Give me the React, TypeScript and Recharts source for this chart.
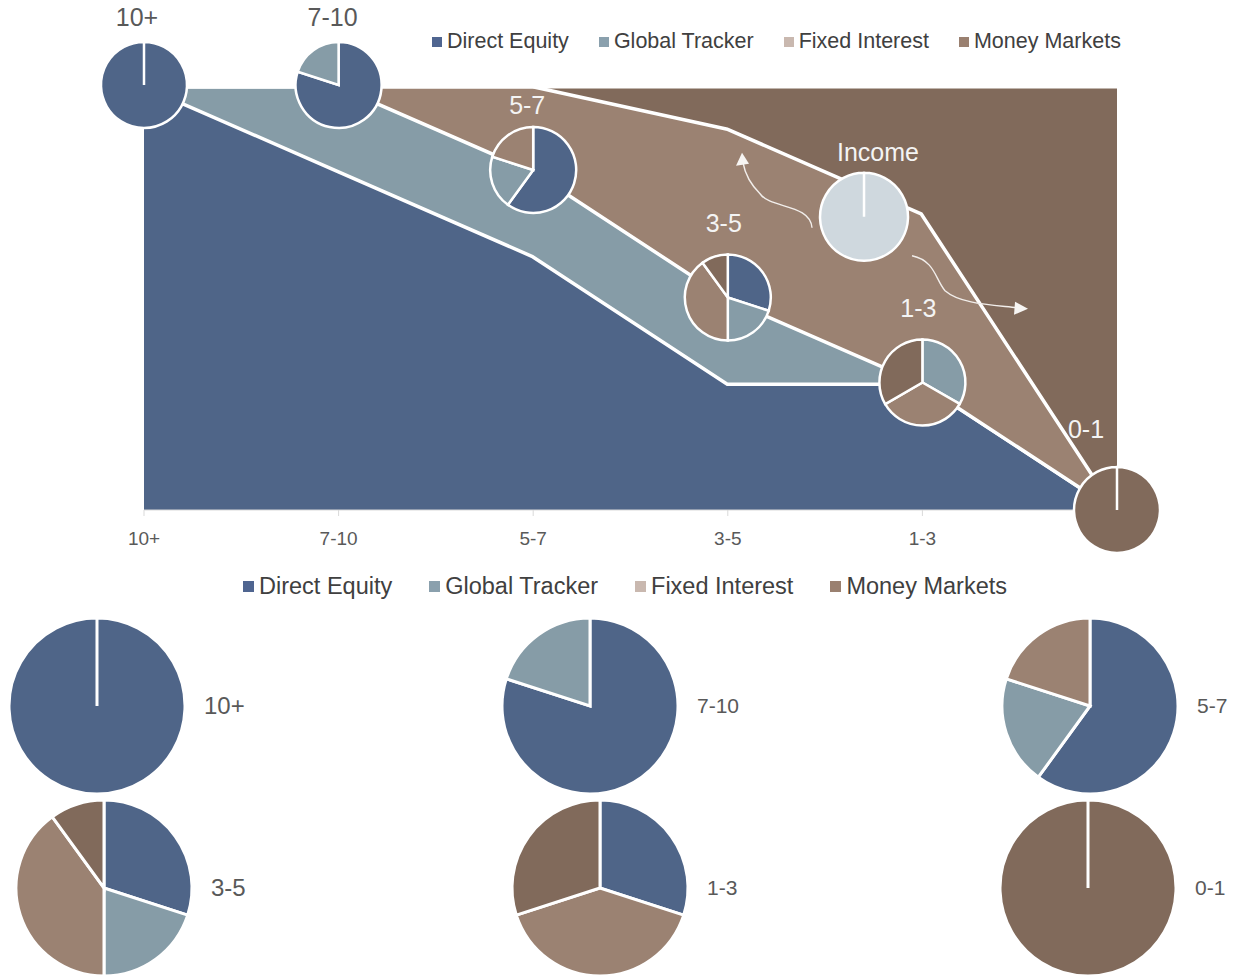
import React from "react";
import { ComposedChart, Area, Line, XAxis, YAxis, ReferenceDot, PieChart, Pie, Cell, Sector } from "recharts";

const terms = ["10+", "7-10", "5-7", "3-5", "1-3", "0-1"];
const directEquity = [100, 80, 60, 30, 30, 0];
const globalTracker = [0, 20, 20, 20, 0, 0];
const fixedInterest = [0, 0, 20, 40, 40, 0];
const moneyMarkets = [0, 0, 0, 10, 30, 100];

// the little pies sitting on the glide path (the 1-3 one is split in thirds there)
const miniEquity = [100, 80, 60, 30, 0, 0];
const miniTracker = [0, 20, 20, 20, 33.3, 0];
const miniFixed = [0, 0, 20, 40, 33.3, 0];
const miniMoney = [0, 0, 0, 10, 33.4, 100];

// income bubble between 3-5 and 1-3
const incomeAt = 3.7;
const incomeLevel = 69;

const seriesNames = ["Direct Equity", "Global Tracker", "Fixed Interest", "Money Markets"];
const areaColors = ["#4f6588", "#869ca7", "#9b8272", "#816a5b"];
const miniColors = ["#4f6588", "#869ca7", "#9b8272", "#816a5b"];
const keyColors = ["#4f6590", "#8aa0ad", "#c9b8af", "#9a8070"];
const incomeColor = "#cfd8de";

const FONT = '"Liberation Sans", Arial, sans-serif';

const chartData = terms.map((t, i) => ({
  pos: i,
  term: t,
  de: directEquity[i],
  gt: globalTracker[i],
  fi: fixedInterest[i],
  mm: moneyMarkets[i],
}));

// label offsets for the small pies (layout only)
const miniLabelShift = [
  [-7, -68],
  [-6, -68],
  [-6, -65],
  [-4, -74],
  [-4, -74],
  [-31, -81],
];

function PieSlices({ cx, cy, r, values, colors, sw }: any) {
  const total = values.reduce((a: number, b: number) => a + b, 0);
  let start = 90;
  const out: any[] = [];
  values.forEach((v: number, i: number) => {
    if (!v) return;
    const end = start - (v / total) * 360;
    out.push(
      <Sector
        key={i}
        cx={cx}
        cy={cy}
        innerRadius={0}
        outerRadius={r}
        startAngle={start}
        endAngle={end}
        fill={colors[i]}
        stroke="#fff"
        strokeWidth={sw}
      />
    );
    start = end;
  });
  return <g>{out}</g>;
}

function MiniDot(props: any) {
  const { cx, cy, index } = props;
  if (cx == null || cy == null) return null;
  const vals = [miniEquity[index], miniTracker[index], miniFixed[index], miniMoney[index]];
  const [dx, dy] = miniLabelShift[index];
  const onWhite = index < 2;
  return (
    <g key={`mini-${index}`}>
      <PieSlices cx={cx} cy={cy} r={43} values={vals} colors={miniColors} sw={2.5} />
      <text
        x={cx + dx}
        y={cy + dy}
        dy="0.35em"
        textAnchor="middle"
        fontFamily={FONT}
        fontSize={25}
        fill={onWhite ? "#595959" : "#f4f4f4"}
      >
        {terms[index]}
      </text>
    </g>
  );
}

function IncomeMark(props: any) {
  const { cx, cy } = props;
  if (cx == null || cy == null) return null;
  return (
    <g>
      <path
        d={`M ${cx - 52} ${cy + 11} C ${cx - 54} ${cy - 13}, ${cx - 94} ${cy - 8}, ${cx - 104} ${cy - 23} C ${cx - 114} ${cy - 33}, ${cx - 119} ${cy - 43}, ${cx - 121} ${cy - 54}`}
        fill="none"
        stroke="#f2eeeb"
        strokeWidth={1.4}
      />
      <path d={`M ${cx - 122} ${cy - 64} L ${cx - 128} ${cy - 51} L ${cx - 115} ${cy - 53} Z`} fill="#f7f5f3" />
      <path
        d={`M ${cx + 48} ${cy + 39} C ${cx + 71} ${cy + 44}, ${cx + 71} ${cy + 62}, ${cx + 81} ${cy + 74} C ${cx + 96} ${cy + 87}, ${cx + 126} ${cy + 88}, ${cx + 153} ${cy + 91}`}
        fill="none"
        stroke="#f2eeeb"
        strokeWidth={1.4}
      />
      <path d={`M ${cx + 164} ${cy + 92} L ${cx + 151} ${cy + 85} L ${cx + 150} ${cy + 98} Z`} fill="#f7f5f3" />
      <PieSlices cx={cx} cy={cy} r={44} values={[100]} colors={[incomeColor]} sw={2.5} />
      <text x={cx + 14} y={cy - 65} dy="0.35em" textAnchor="middle" fontFamily={FONT} fontSize={25} fill="#f4f4f4">
        Income
      </text>
    </g>
  );
}

function KeyRow({ left, top, size, gap, box }: any) {
  return (
    <div
      style={{
        position: "absolute",
        left,
        top,
        display: "flex",
        alignItems: "center",
        fontFamily: FONT,
        fontSize: size,
        color: "#404040",
        whiteSpace: "nowrap",
      }}
    >
      {seriesNames.map((n, i) => (
        <span key={n} style={{ display: "flex", alignItems: "center", marginRight: i < 3 ? gap : 0 }}>
          <span style={{ width: box, height: box, background: keyColors[i], marginRight: 5, display: "inline-block" }} />
          {n}
        </span>
      ))}
    </div>
  );
}

// big pies underneath
const bigPies = [
  { idx: 0, cx: 97, cy: 146, labelSize: 24 },
  { idx: 1, cx: 590, cy: 146, labelSize: 21 },
  { idx: 2, cx: 1090, cy: 146, labelSize: 21 },
  { idx: 3, cx: 104, cy: 328, labelSize: 24 },
  { idx: 4, cx: 600, cy: 328, labelSize: 21 },
  { idx: 5, cx: 1088, cy: 328, labelSize: 21 },
];

function pieRows(i: number) {
  return [directEquity[i], globalTracker[i], fixedInterest[i], moneyMarkets[i]]
    .map((v, k) => ({ name: seriesNames[k], value: v, fill: areaColors[k] }))
    .filter((d) => d.value > 0);
}

export default function App() {
  const bottomTop = 560;
  return (
    <div style={{ position: "absolute", left: 0, top: 0, width: 1236, height: 976, background: "#fff", overflow: "hidden" }}>
      <div style={{ position: "absolute", left: 0, top: 0 }}>
        <ComposedChart width={1236} height={560} data={chartData} margin={{ top: 85, right: 119, left: 144, bottom: 15 }}>
          <XAxis
            dataKey="pos"
            type="number"
            domain={[0, 5]}
            ticks={[0, 1, 2, 3, 4]}
            tickFormatter={(v: number) => terms[v]}
            height={35}
            axisLine={{ stroke: "#d9d9d9" }}
            tickLine={{ stroke: "#d9d9d9" }}
            tickSize={6}
            tickMargin={16}
            tick={{ fill: "#595959", fontSize: 19, fontFamily: FONT }}
          />
          <YAxis hide domain={[0, 100]} />
          <Area type="linear" dataKey="de" stackId="s" fill={areaColors[0]} fillOpacity={1} stroke="#fff" strokeWidth={7} isAnimationActive={false} />
          <Area type="linear" dataKey="gt" stackId="s" fill={areaColors[1]} fillOpacity={1} stroke="#fff" strokeWidth={7} isAnimationActive={false} />
          <Area type="linear" dataKey="fi" stackId="s" fill={areaColors[2]} fillOpacity={1} stroke="#fff" strokeWidth={7} isAnimationActive={false} />
          <Area type="linear" dataKey="mm" stackId="s" fill={areaColors[3]} fillOpacity={1} stroke="#fff" strokeWidth={7} isAnimationActive={false} />
          <Line
            dataKey={(d: any) => d.de + d.gt}
            stroke="none"
            legendType="none"
            dot={(p: any) => <MiniDot key={`md-${p.index}`} {...p} />}
            activeDot={false}
            isAnimationActive={false}
          />
          <ReferenceDot x={incomeAt} y={incomeLevel} r={44} shape={(p: any) => <IncomeMark {...p} />} />
        </ComposedChart>
      </div>
      <KeyRow left={432} top={29} size={21.5} gap={30} box={10} />

      <div style={{ position: "absolute", left: 0, top: bottomTop }}>
        <PieChart width={1236} height={416} margin={{ top: 0, right: 0, bottom: 0, left: 0 }}>
          {bigPies.map((bp) => (
            <Pie
              key={bp.idx}
              data={pieRows(bp.idx)}
              dataKey="value"
              nameKey="name"
              cx={bp.cx}
              cy={bp.cy}
              outerRadius={88}
              startAngle={90}
              endAngle={-270}
              stroke="#fff"
              strokeWidth={3}
              isAnimationActive={false}
            >
              {pieRows(bp.idx).map((d) => (
                <Cell key={d.name} fill={d.fill} />
              ))}
            </Pie>
          ))}
        </PieChart>
        {bigPies.map((bp) => (
          <div
            key={`lbl-${bp.idx}`}
            style={{
              position: "absolute",
              left: bp.cx + 107,
              top: bp.cy - bp.labelSize * 0.58,
              fontFamily: FONT,
              fontSize: bp.labelSize,
              color: "#595959",
              whiteSpace: "nowrap",
            }}
          >
            {terms[bp.idx]}
          </div>
        ))}
      </div>
      <KeyRow left={243} top={573} size={23.5} gap={37} box={11} />
    </div>
  );
}
